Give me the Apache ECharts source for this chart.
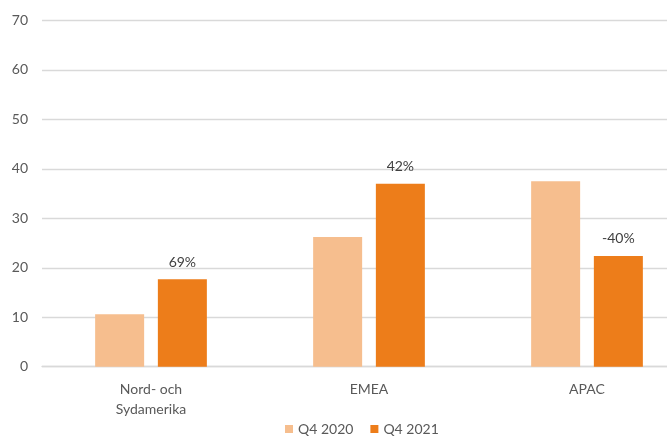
<!DOCTYPE html>
<html>
<head>
<meta charset="utf-8">
<script src="https://cdn.jsdelivr.net/npm/echarts@6/dist/echarts.min.js"></script>
<style>html,body{margin:0;padding:0;background:#fff;overflow:hidden}#c{width:696px;height:436px}</style>
</head>
<body>
<div id="c"></div>
<script>
var categories = ['Nord- och\nSydamerika', 'EMEA', 'APAC'];
var q4_2020 = [10.6, 26.2, 37.5];
var q4_2021 = [17.7, 37.0, 22.4];
var changeLabels = ['69%', '42%', '-40%'];
var yTicks = { min: 0, max: 70, interval: 10 };

var chart = echarts.init(document.getElementById('c'));
var font = 'Lato';
chart.setOption({
  animation: false,
  textStyle: { fontFamily: font },
  grid: { left: 42, right: 0, top: 20.5, height: 346.2, containLabel: false },
  legend: {
    data: ['Q4 2020', 'Q4 2021'],
    top: 417,
    left: 280,
    icon: 'rect',
    itemWidth: 8,
    itemHeight: 8,
    itemGap: 17,
    textStyle: { color: '#595959', fontSize: 14, fontFamily: font }
  },
  xAxis: {
    type: 'category',
    data: categories,
    axisLine: { lineStyle: { color: '#D9D9D9', width: 1.3 } },
    axisTick: { show: false },
    axisLabel: { color: '#595959', fontSize: 14, fontFamily: font, lineHeight: 20, margin: 13 }
  },
  yAxis: {
    type: 'value',
    min: yTicks.min,
    max: yTicks.max,
    interval: yTicks.interval,
    axisLine: { show: false },
    axisTick: { show: false },
    splitLine: { lineStyle: { color: '#D9D9D9', width: 1.3 } },
    axisLabel: { color: '#595959', fontSize: 14, fontFamily: font, margin: 14 }
  },
  series: [
    {
      name: 'Q4 2020',
      type: 'bar',
      data: q4_2020,
      barWidth: 49,
      barGap: '28%',
      itemStyle: { color: '#F6BE8E' }
    },
    {
      name: 'Q4 2021',
      type: 'bar',
      data: q4_2021,
      barWidth: 49,
      barGap: '28%',
      itemStyle: { color: '#ED7D1A' },
      label: {
        show: true,
        position: 'top',
        distance: 10,
        color: '#404040',
        fontSize: 14,
        fontFamily: font,
        formatter: function (p) { return changeLabels[p.dataIndex]; }
      }
    }
  ]
});
</script>
</body>
</html>
